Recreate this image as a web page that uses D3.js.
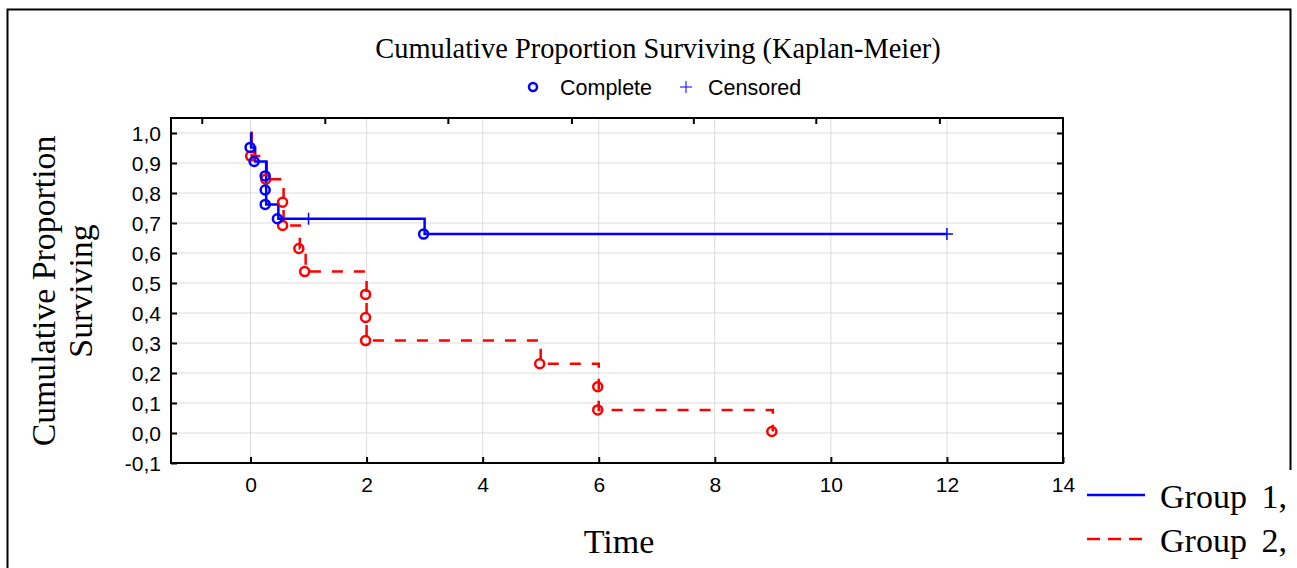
<!DOCTYPE html>
<html>
<head>
<meta charset="utf-8">
<script src="https://cdn.jsdelivr.net/npm/d3@7"></script>
<style>
  body { margin: 0; background: white; }
  svg { display: block; }
  .sans { font-family: Arial, "Liberation Sans", sans-serif; }
  .serif { font-family: "Times New Roman", "Liberation Serif", serif; }
</style>
</head>
<body>
<svg id="km-svg" width="1297" height="568"></svg>
<script>
// Group 1 (solid blue)
var g1_time = [0.01, 0.08, 0.27, 0.27, 0.27, 0.48, 1.0, 3.0, 12.0];
var g1_surv = [0.952, 0.905, 0.857, 0.810, 0.762, 0.714, 0.714, 0.663, 0.663];
var g1_cens = [0, 0, 0, 0, 0, 0, 1, 0, 1];

// Group 2 (dashed red)
var g2_time = [0.02, 0.28, 0.57, 0.57, 0.85, 0.95, 2.0, 2.0, 2.0, 5.0, 6.0, 6.0, 9.0];
var g2_surv = [0.923, 0.846, 0.769, 0.692, 0.615, 0.538, 0.462, 0.385, 0.308, 0.231, 0.154, 0.077, 0.005];
var g2_cens = [0, 0, 0, 0, 0, 0, 0, 0, 0, 0, 0, 0, 0];

// Axes
var x_ticks = [0, 2, 4, 6, 8, 10, 12, 14];
var y_ticks = [-0.1, 0, 0.1, 0.2, 0.3, 0.4, 0.5, 0.6, 0.7, 0.8, 0.9, 1.0];
var top_ticks = [-0.84, 1.28, 3.40, 5.53, 7.63, 9.74, 11.87];
var group_labels = ["Group 1,", "Group 2,"];

var blue = "#0000ff";
var red = "#ff0000";
var grid_gray = "#dcdcdc";

var svg = d3.select("#km-svg");

var plot = { left: 171, right: 1063, top: 118, bottom: 463 };

var x = d3.scaleLinear().domain([-1.37, 14]).range([plot.left, plot.right]);
var y = d3.scaleLinear().domain([-0.1, 1.05]).range([plot.bottom, plot.top]);

// outer frame
svg.append("path")
   .attr("d", "M7.5,570 V9.5 H1290.5 V470")
   .style("fill", "none")
   .style("stroke", "black")
   .style("stroke-width", 2);

// Gridlines
svg.append("g")
   .selectAll("line")
   .data(x_ticks.filter(function(d) { return d < 14; }))
   .enter()
   .append("line")
   .attr("x1", function(d) { return x(d); })
   .attr("x2", function(d) { return x(d); })
   .attr("y1", plot.top)
   .attr("y2", plot.bottom)
   .style("stroke", grid_gray)
   .style("stroke-width", 1);

svg.append("g")
   .selectAll("line")
   .data(y_ticks.filter(function(d) { return d > -0.1; }))
   .enter()
   .append("line")
   .attr("x1", plot.left)
   .attr("x2", plot.right)
   .attr("y1", function(d) { return y(d); })
   .attr("y2", function(d) { return y(d); })
   .style("stroke", grid_gray)
   .style("stroke-width", 1);

// Axes, ticks pointing inward
var axis_bottom = svg.append("g")
   .attr("class", "sans")
   .attr("transform", "translate(0," + plot.bottom + ")")
   .call(d3.axisBottom(x).tickValues(x_ticks).tickSizeInner(-6).tickSizeOuter(0).tickPadding(14)
          .tickFormat(function(d) { return d; }));

var axis_left = svg.append("g")
   .attr("class", "sans")
   .attr("transform", "translate(" + plot.left + ",0)")
   .call(d3.axisLeft(y).tickValues(y_ticks).tickSizeInner(-6).tickSizeOuter(0).tickPadding(10)
          .tickFormat(function(d) { return d3.format(".1f")(d).replace(".", ",").replace("−", "-"); }));

svg.append("g")
   .attr("transform", "translate(" + plot.right + ",0)")
   .call(d3.axisRight(y).tickValues(y_ticks.filter(function(d) { return d > -0.1; })).tickSizeInner(-6).tickSizeOuter(0).tickFormat(""));

svg.append("g")
   .attr("transform", "translate(0," + plot.top + ")")
   .call(d3.axisTop(x).tickValues(top_ticks).tickSizeInner(-6).tickSizeOuter(0).tickFormat(""));

svg.selectAll(".domain").remove();
svg.selectAll(".tick line").style("stroke", "black").style("stroke-width", 2);
axis_bottom.selectAll("text").style("font-size", "21px").style("fill", "black");
axis_left.selectAll("text").style("font-size", "21px").style("fill", "black").attr("dy", "0.35em");

// plot frame
svg.append("rect")
   .attr("x", plot.left)
   .attr("y", plot.top)
   .attr("width", plot.right - plot.left)
   .attr("height", plot.bottom - plot.top)
   .style("fill", "none")
   .style("stroke", "black")
   .style("stroke-width", 2);

// Survival curves
var make_points = function(times, survs) {
  var pts = [[0, 1.0]];
  for (var i = 0; i < times.length; i++) {
    pts.push([times[i], survs[i]]);
  }
  return pts;
};

var step_line = d3.line()
   .x(function(d) { return x(d[0]); })
   .y(function(d) { return y(d[1]); })
   .curve(d3.curveStepAfter);

svg.append("path")
   .attr("d", step_line(make_points(g2_time, g2_surv)))
   .style("fill", "none")
   .style("stroke", red)
   .style("stroke-width", 2.5)
   .style("stroke-dasharray", "11,11");

svg.append("path")
   .attr("d", step_line(make_points(g1_time, g1_surv)))
   .style("fill", "none")
   .style("stroke", blue)
   .style("stroke-width", 2.5);

var draw_marks = function(times, survs, cens, colour) {
  var data = times.map(function(t, i) { return { t: t, s: survs[i], c: cens[i] }; });

  svg.append("g")
     .selectAll("circle")
     .data(data.filter(function(d) { return d.c == 0; }))
     .enter()
     .append("circle")
     .attr("cx", function(d) { return x(d.t) - 1; })
     .attr("cy", function(d) { return y(d.s); })
     .attr("r", 4.5)
     .style("fill", "none")
     .style("stroke", colour)
     .style("stroke-width", 2.5);

  svg.append("g")
     .selectAll("path")
     .data(data.filter(function(d) { return d.c == 1; }))
     .enter()
     .append("path")
     .attr("d", function(d) {
       var cx = x(d.t), cy = y(d.s);
       return "M" + (cx - 6) + "," + cy + "H" + (cx + 6) + "M" + cx + "," + (cy - 6) + "V" + (cy + 6);
     })
     .style("stroke", colour)
     .style("stroke-width", 1.5);
};

draw_marks(g2_time, g2_surv, g2_cens, red);
draw_marks(g1_time, g1_surv, g1_cens, blue);

// Title and top legend
svg.append("text")
   .attr("class", "serif")
   .attr("x", 658)
   .attr("y", 58)
   .attr("text-anchor", "middle")
   .style("font-size", "28.4px")
   .text("Cumulative Proportion Surviving (Kaplan-Meier)");

svg.append("circle")
   .attr("cx", 533)
   .attr("cy", 87)
   .attr("r", 4)
   .style("fill", "none")
   .style("stroke", blue)
   .style("stroke-width", 2.5);

svg.append("text")
   .attr("class", "sans")
   .attr("x", 560)
   .attr("y", 95)
   .style("font-size", "21.5px")
   .text("Complete");

svg.append("path")
   .attr("d", "M680,87H692M686,81V93")
   .style("stroke", blue)
   .style("stroke-width", 1);

svg.append("text")
   .attr("class", "sans")
   .attr("x", 708)
   .attr("y", 95)
   .style("font-size", "21.5px")
   .text("Censored");

// Axis titles
svg.append("text")
   .attr("class", "serif")
   .attr("x", 619)
   .attr("y", 553)
   .attr("text-anchor", "middle")
   .style("font-size", "34px")
   .text("Time");

var y_title = svg.append("text")
   .attr("class", "serif")
   .attr("transform", "translate(0,291) rotate(-90)")
   .attr("text-anchor", "middle")
   .style("font-size", "33.8px");
y_title.append("tspan").attr("x", 0).attr("y", 55).text("Cumulative Proportion");
y_title.append("tspan").attr("x", 0).attr("y", 92).text("Surviving");

// Group legend
var legend = svg.append("g");
legend.append("rect")
   .attr("x", 1080)
   .attr("y", 472)
   .attr("width", 217)
   .attr("height", 96)
   .style("fill", "white");

legend.selectAll("line")
   .data(group_labels)
   .enter()
   .append("line")
   .attr("x1", 1087)
   .attr("x2", 1145)
   .attr("y1", function(d, i) { return 495 + i * 44; })
   .attr("y2", function(d, i) { return 495 + i * 44; })
   .style("stroke", function(d, i) { return i == 0 ? blue : red; })
   .style("stroke-width", 2.5)
   .style("stroke-dasharray", function(d, i) { return i == 0 ? null : "13,8"; });

legend.selectAll("text")
   .data(group_labels)
   .enter()
   .append("text")
   .attr("class", "serif")
   .attr("x", 1160)
   .attr("y", function(d, i) { return 508 + i * 44; })
   .style("font-size", "34px")
   .style("word-spacing", "6px")
   .text(function(d) { return d; });
</script>
</body>
</html>
